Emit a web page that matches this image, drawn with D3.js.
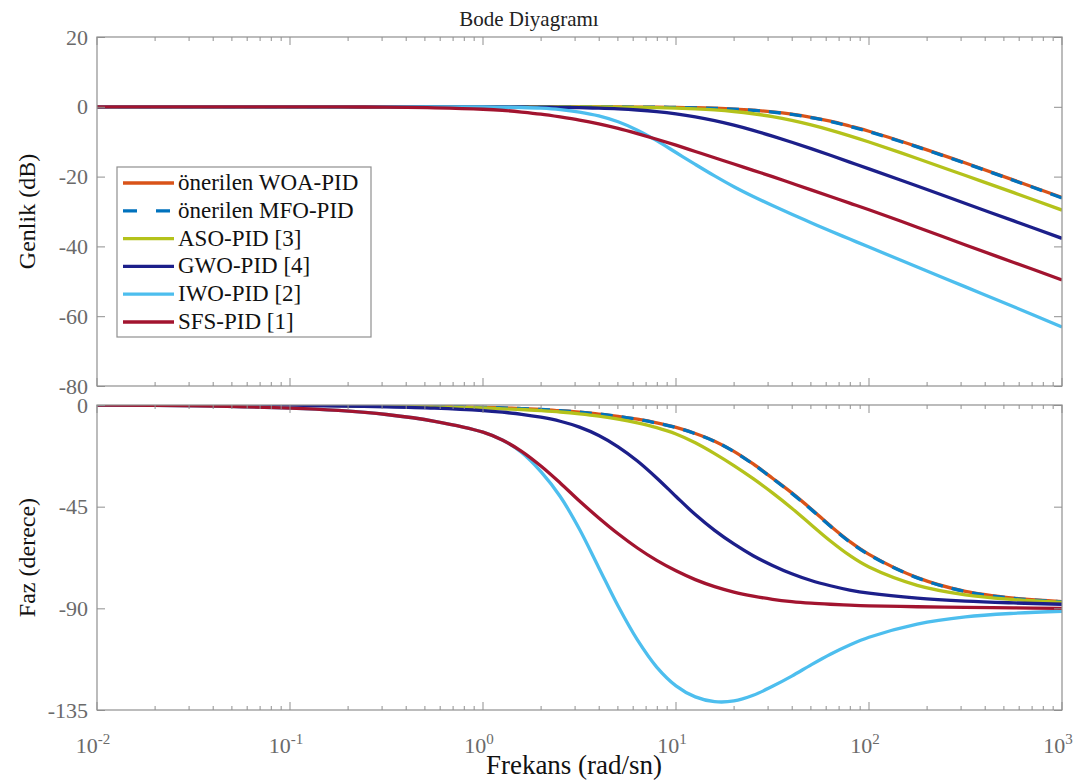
<!DOCTYPE html>
<html><head><meta charset="utf-8">
<script src="https://cdn.jsdelivr.net/npm/d3@7"></script>
<style>
body{margin:0;background:#fff}
svg{display:block}
text{font-family:"Liberation Serif","Times New Roman",serif}
</style>
</head><body>
<svg id="c" width="1085" height="780"></svg>
<script>
// ---- data ----
const freqs = [0.01,0.0316,0.1,0.178,0.316,0.562,1,1.259,1.585,1.995,2.512,3.162,3.981,5.012,6.31,7.943,10,12.59,15.85,19.95,25.12,31.62,39.81,50.12,63.1,79.43,100,177.8,316.2,562.3,1000];

const magWOA = [0,0,0,0,0,0,0, 0,0,0,0,0,0,-0.05,-0.07,-0.1,-0.17, -0.27,-0.42,-0.64,-0.98,-1.46,-2.13,-3.0,-4.1,-5.5,-7.0, -11.4,-16.1,-21.0,-26.0];
const magMFO = [0,0,0,0,0,0,0, 0,0,0,0,0,0,-0.05,-0.07,-0.1,-0.17, -0.28,-0.43,-0.66,-1.0,-1.5,-2.2,-3.1,-4.2,-5.6,-7.1, -11.5,-16.2,-21.1,-26.1];
const magASO = [0,0,0,0,0,0,0, -0.01,-0.01,-0.02,-0.03,-0.04,-0.06,-0.1,-0.16,-0.25,-0.38, -0.59,-0.9,-1.35,-1.99,-2.83,-3.9,-5.19,-6.68,-8.32,-10.08, -14.8,-19.7,-24.6,-29.6];
const magGWO = [0,0,0,0,0,-0.01,-0.03, -0.04,-0.06,-0.1,-0.16,-0.25,-0.39,-0.6,-0.92,-1.38,-2.02, -2.87,-3.96,-5.26,-6.75,-8.4,-10.16,-12.0,-13.9,-15.84,-17.79, -22.7,-27.7,-32.7,-37.7];
const magIWO = [0,0,0,0,0,0,-0.05, -0.1,-0.2,-0.4,-0.8,-1.5,-2.6,-4.3,-6.7,-9.7,-13.1, -16.5,-19.8,-22.9,-25.7,-28.3,-30.8,-33.2,-35.6,-37.9,-40.2, -45.9,-51.6,-57.3,-63.1];
const magSFS = [0,0,-0.02,-0.04,-0.1,-0.3,-0.7, -1.0,-1.5,-2.1,-2.9,-3.8,-4.9,-6.2,-7.7,-9.3,-11.0, -12.8,-14.6,-16.4,-18.2,-20.0,-21.9,-23.8,-25.7,-27.6,-29.5, -34.5,-39.6,-44.6,-49.6];

const phWOA = [0,-0.03,-0.1,-0.2,-0.35,-0.6,-1.05, -1.3,-1.6,-2.0,-2.5,-3.2,-4.0,-5.0,-6.3,-7.9,-9.9, -12.6,-16.0,-20.5,-26.1,-32.4,-38.9,-46.0,-53.5,-60.4,-66.1, -76.4,-82.5,-85.5,-87.0];
const phMFO = [0,-0.03,-0.1,-0.2,-0.35,-0.6,-1.05, -1.3,-1.6,-2.0,-2.5,-3.2,-4.0,-5.0,-6.3,-8.0,-10.0, -12.7,-16.1,-20.6,-26.2,-32.5,-39.1,-46.2,-53.7,-60.6,-66.3, -76.5,-82.6,-85.6,-87.1];
const phASO = [0,-0.05,-0.15,-0.25,-0.45,-0.8,-1.3, -1.7,-2.0,-2.5,-3.1,-3.9,-4.9,-6.2,-7.9,-10.0,-12.8, -16.7,-21.5,-26.8,-32.6,-38.9,-45.7,-53.0,-60.2,-66.6,-71.7, -79.8,-84.0,-86.1,-87.4];
const phGWO = [0,-0.1,-0.25,-0.45,-0.8,-1.4,-2.5, -3.2,-4.1,-5.4,-7.2,-9.8,-13.5,-18.5,-24.8,-32.3,-40.5, -48.5,-55.5,-61.5,-66.7,-71,-74.7,-77.7,-80,-81.9,-83.3, -85.5,-86.8,-87.6,-88.2];
const phIWO = [0,-0.4,-1.35,-2.4,-4.2,-7.2,-12, -15.5,-21,-29.5,-40.5,-55,-72,-89,-104,-116,-124.3, -129.2,-131.3,-131,-128.5,-124.5,-120,-115,-110.3,-106.2,-102.8, -97,-93.8,-92.2,-91.3];
const phSFS = [0,-0.4,-1.35,-2.4,-4.2,-7.2,-12, -15.5,-20.5,-27,-34.5,-42.5,-50,-57,-63.3,-68.8,-73.4, -77.3,-80.4,-82.8,-84.6,-86,-87,-87.7,-88.2,-88.6,-88.9, -89.3,-89.6,-89.8,-90];

const seriesNames = ["önerilen WOA-PID","önerilen MFO-PID","ASO-PID [3]","GWO-PID [4]","IWO-PID [2]","SFS-PID [1]"];
const seriesColors = ["#D95319","#0072BD","#B4C21B","#1C1F8A","#4DBEEE","#A2142F"];
const seriesDashed = [false,true,false,false,false,false];
const magSeries = [magWOA,magMFO,magASO,magGWO,magIWO,magSFS];
const phaseSeries = [phWOA,phMFO,phASO,phGWO,phIWO,phSFS];

const magTicks = [20,0,-20,-40,-60,-80];
const phaseTicks = [0,-45,-90,-135];
const xTickExps = [-2,-1,0,1,2,3];

const titleText = "Bode Diyagramı";
const xLabelText = "Frekans (rad/sn)";
const magLabelText = "Genlik (dB)";
const phaseLabelText = "Faz (derece)";

// ---- layout ----
const FONT = '"Liberation Serif","Times New Roman",serif';
const svg = d3.select("#c");
const L = 97, R = 1062;
const magTop = 37, magBot = 386, phTop = 405, phBot = 710;
const axisGrey = "#8f8f8f", labelGrey = "#6a6a6a";

const x = d3.scaleLog().domain([0.01,1000]).range([L,R]);
const yMag = d3.scaleLinear().domain([-80,20]).range([magBot,magTop]);
const yPh = d3.scaleLinear().domain([-135,0]).range([phBot,phTop]);

const allTicks = x.ticks();
const majorVals = xTickExps.map(e => Math.pow(10,e));
const isMajor = v => majorVals.some(m => Math.abs(Math.log10(v)-Math.log10(m))<1e-6);

function panel(y, ticks, top, bot, series, id){
  const g = svg.append("g");
  g.append("clipPath").attr("id",id).append("rect")
    .attr("x",L).attr("y",top).attr("width",R-L).attr("height",bot-top);
  const line = d3.line().x((d,i)=>x(freqs[i])).y(d=>y(d)).curve(d3.curveCatmullRom.alpha(0.5));
  const lg = g.append("g").attr("clip-path",`url(#${id})`);
  series.forEach((s,k)=>{
    lg.append("path").attr("d",line(s)).attr("fill","none")
      .attr("stroke",seriesColors[k]).attr("stroke-width",3.3)
      .attr("stroke-dasharray",seriesDashed[k]?"12,9":null)
      .attr("stroke-linejoin","round");
  });
  g.append("rect").attr("x",L).attr("y",top).attr("width",R-L).attr("height",bot-top)
    .attr("fill","none").attr("stroke",axisGrey).attr("stroke-width",1.2);
  allTicks.forEach(v=>{
    const len = isMajor(v)?8:4;
    const px = x(v);
    g.append("line").attr("x1",px).attr("x2",px).attr("y1",bot).attr("y2",bot-len).attr("stroke",axisGrey);
    g.append("line").attr("x1",px).attr("x2",px).attr("y1",top).attr("y2",top+len).attr("stroke",axisGrey);
  });
  const ax = d3.axisLeft(y).tickValues(ticks).tickSize(-8).tickPadding(9).tickFormat(d => String(d));
  const ag = g.append("g").attr("transform",`translate(${L},0)`).call(ax)
    .attr("font-family",FONT).attr("font-size",22);
  ag.select(".domain").remove();
  ag.selectAll("line").attr("stroke",axisGrey);
  ag.selectAll("text").attr("fill",labelGrey).attr("font-family",FONT).style("font-family",FONT).style("font-size","22px");
  const ar = d3.axisRight(y).tickValues(ticks).tickSize(-8).tickFormat("");
  const arg = g.append("g").attr("transform",`translate(${R},0)`).call(ar);
  arg.select(".domain").remove();
  arg.selectAll("line").attr("stroke",axisGrey);
  return g;
}

panel(yMag, magTicks, magTop, magBot, magSeries, "clipMag");
panel(yPh, phaseTicks, phTop, phBot, phaseSeries, "clipPh");

// x tick labels (10^n)
xTickExps.forEach(e=>{
  const px = x(Math.pow(10,e));
  const t = svg.append("text").attr("x",px-4).attr("y",753).attr("text-anchor","middle")
    .attr("font-family",FONT).attr("fill",labelGrey).style("font-size","22px");
  t.append("tspan").text("10");
  t.append("tspan").attr("dy",-9).style("font-size","15px").text(String(e));
});

// titles
svg.append("text").attr("x",529).attr("y",26).attr("text-anchor","middle").attr("font-family",FONT)
  .attr("fill","#222").style("font-size","21px").text(titleText);
svg.append("text").attr("x",574).attr("y",774).attr("text-anchor","middle").attr("font-family",FONT)
  .attr("fill","#111").style("font-size","27px").text(xLabelText);
svg.append("text").attr("transform",`translate(35,${(magTop+magBot)/2}) rotate(-90)`).attr("font-family",FONT)
  .attr("text-anchor","middle").attr("fill","#111").style("font-size","24px").text(magLabelText);
svg.append("text").attr("transform",`translate(35,${(phTop+phBot)/2}) rotate(-90)`).attr("font-family",FONT)
  .attr("text-anchor","middle").attr("fill","#111").style("font-size","24px").text(phaseLabelText);

// legend
const legX = 117, legY = 167, legW = 254, legH = 170, rowH = 27.8, firstRow = 183;
const leg = svg.append("g");
leg.append("rect").attr("x",legX).attr("y",legY).attr("width",legW).attr("height",legH)
  .attr("fill","#fff").attr("stroke",axisGrey).attr("stroke-width",1.2);
seriesNames.forEach((n,k)=>{
  const yy = firstRow + k*rowH;
  leg.append("line").attr("x1",123).attr("x2",174).attr("y1",yy).attr("y2",yy)
    .attr("stroke",seriesColors[k]).attr("stroke-width",3.3)
    .attr("stroke-dasharray",seriesDashed[k]?"14,19":null);
  leg.append("text").attr("x",178).attr("y",yy+7).attr("font-family",FONT).attr("fill","#111")
    .style("font-size","23px").text(n);
});
</script>
</body></html>
